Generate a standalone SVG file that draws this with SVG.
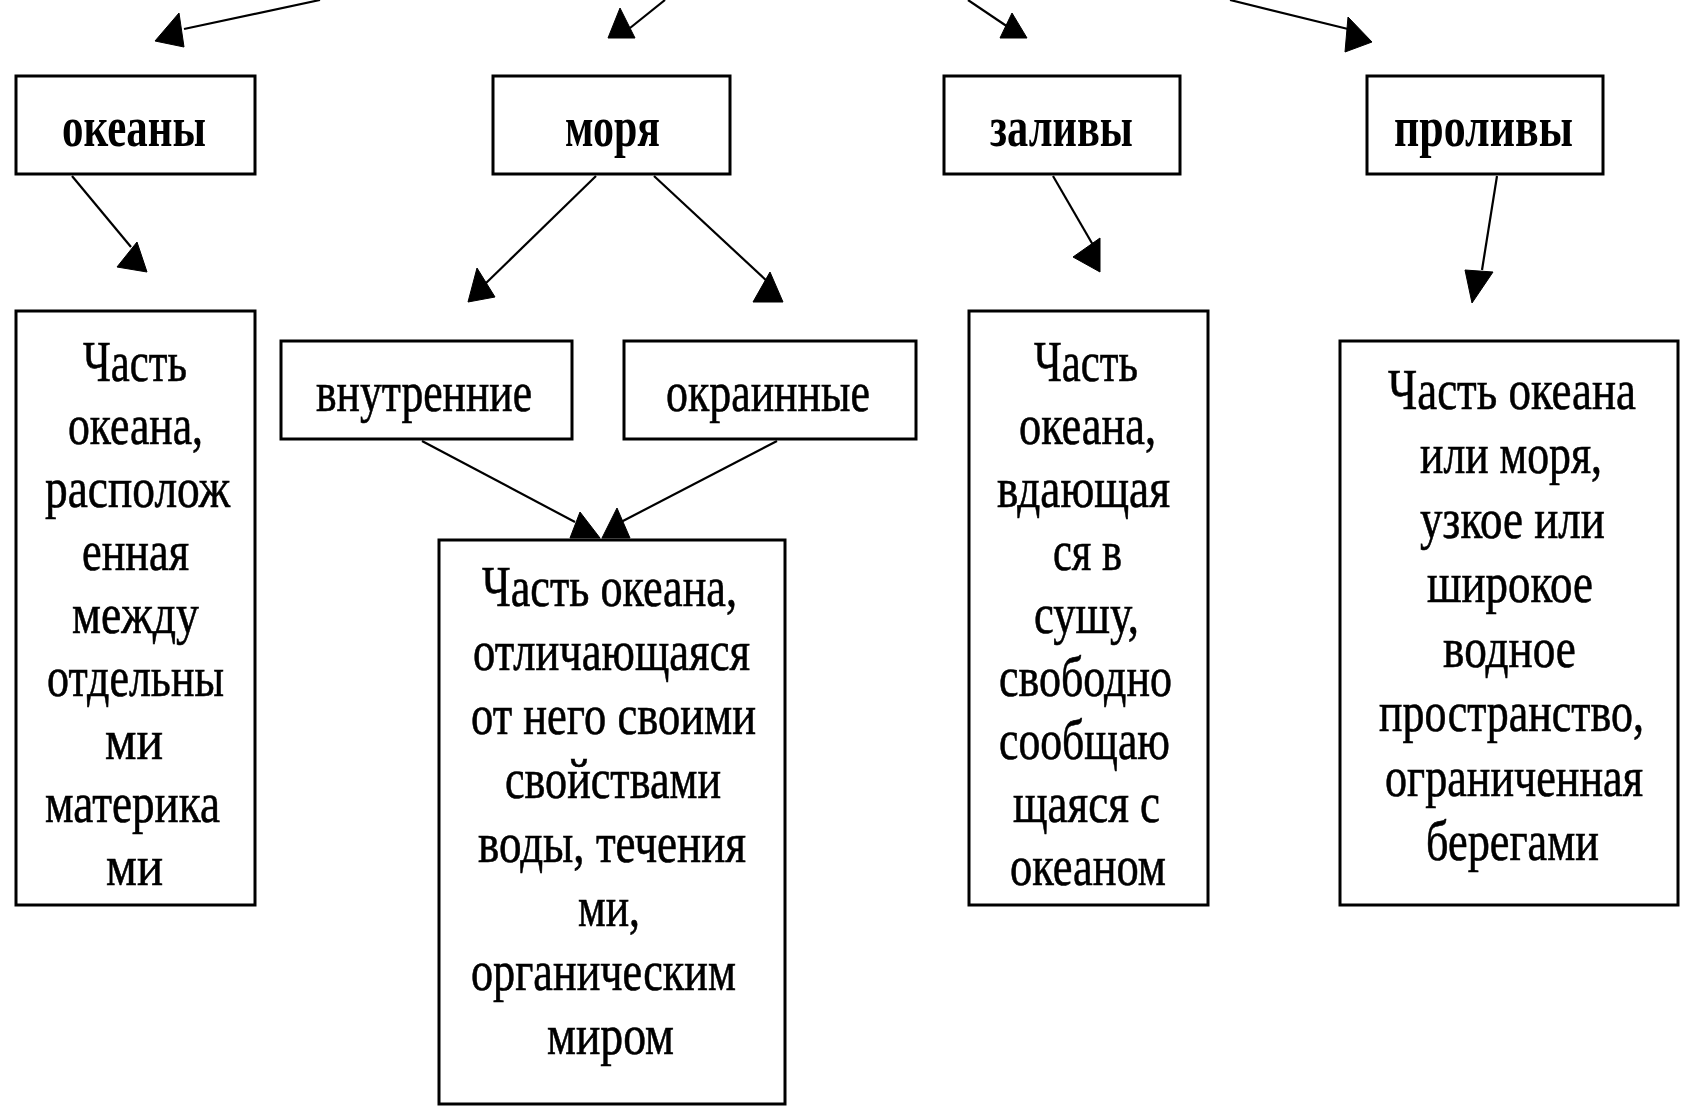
<svg xmlns="http://www.w3.org/2000/svg" width="1681" height="1111" viewBox="0 0 1681 1111">
<style>
.box{fill:#fff;stroke:#000;stroke-width:3}
.t{font-family:"Liberation Serif","Times New Roman",serif;font-size:56px;fill:#000;stroke:#000;stroke-width:0.6;text-anchor:middle}
.h{font-family:"Liberation Serif","Times New Roman",serif;font-size:58px;font-weight:bold;fill:#000;text-anchor:middle}
.ln{stroke:#000;stroke-width:2.2;fill:none}
.ah{fill:#000;stroke:#000;stroke-width:1;stroke-linejoin:round}
</style>
<rect x="0" y="0" width="1681" height="1111" fill="#fff"/>
<g id="connectors">
<line class="ln" x1="320" y1="0" x2="184" y2="29"/><polygon class="ah" points="179,13 155,41 184,47"/>
<line class="ln" x1="665" y1="0" x2="630" y2="28"/><polygon class="ah" points="620,8 608,38 635,38"/>
<line class="ln" x1="968" y1="0" x2="1008" y2="27"/><polygon class="ah" points="1012,13 1000,38 1027,38"/>
<line class="ln" x1="1230" y1="0" x2="1348" y2="29"/><polygon class="ah" points="1348,17 1372,42 1345,52"/>
<line class="ln" x1="72" y1="176" x2="131" y2="247"/><polygon class="ah" points="137,242 117,267 147,272"/>
<line class="ln" x1="596" y1="176" x2="484" y2="285"/><polygon class="ah" points="477,268 468,302 495,297"/>
<line class="ln" x1="654" y1="176" x2="768" y2="282"/><polygon class="ah" points="770,272 753,302 783,302"/>
<line class="ln" x1="1053" y1="176" x2="1093" y2="245"/><polygon class="ah" points="1100,238 1073,257 1100,272"/>
<line class="ln" x1="1497" y1="176" x2="1482" y2="270"/><polygon class="ah" points="1465,270 1493,272 1472,303"/>
<line class="ln" x1="422" y1="441" x2="575" y2="522"/><polygon class="ah" points="580,512 570,538 600,538"/>
<line class="ln" x1="777" y1="441" x2="621" y2="522"/><polygon class="ah" points="617,508 602,538 630,538"/>
</g>
<g id="n-okeany">
<rect class="box" x="16" y="76" width="239" height="98"/>
<text class="h" x="134" y="146" textLength="144" lengthAdjust="spacingAndGlyphs">океаны</text>
</g>
<g id="n-morya">
<rect class="box" x="493" y="76" width="237" height="98"/>
<text class="h" x="612.5" y="146" textLength="95" lengthAdjust="spacingAndGlyphs">моря</text>
</g>
<g id="n-zalivy">
<rect class="box" x="944" y="76" width="236" height="98"/>
<text class="h" x="1061.5" y="146" textLength="143" lengthAdjust="spacingAndGlyphs">заливы</text>
</g>
<g id="n-prolivy">
<rect class="box" x="1367" y="76" width="236" height="98"/>
<text class="h" x="1483.5" y="146" textLength="179" lengthAdjust="spacingAndGlyphs">проливы</text>
</g>
<g id="n-okeany-desc">
<rect class="box" x="16" y="311" width="239" height="594"/>
<text class="t" x="135" y="381" textLength="104" lengthAdjust="spacingAndGlyphs">Часть</text>
<text class="t" x="135.5" y="444" textLength="135" lengthAdjust="spacingAndGlyphs">океана,</text>
<text class="t" x="137.5" y="507" textLength="185" lengthAdjust="spacingAndGlyphs">располож</text>
<text class="t" x="135.5" y="570" textLength="107" lengthAdjust="spacingAndGlyphs">енная</text>
<text class="t" x="135.5" y="633" textLength="127" lengthAdjust="spacingAndGlyphs">между</text>
<text class="t" x="135.5" y="696" textLength="177" lengthAdjust="spacingAndGlyphs">отдельны</text>
<text class="t" x="134" y="759" textLength="58" lengthAdjust="spacingAndGlyphs">ми</text>
<text class="t" x="132.5" y="822" textLength="175" lengthAdjust="spacingAndGlyphs">материка</text>
<text class="t" x="134.5" y="885" textLength="57" lengthAdjust="spacingAndGlyphs">ми</text>
</g>
<g id="n-vnutrennie">
<rect class="box" x="281" y="341" width="291" height="98"/>
<text class="t" x="424" y="411" textLength="216" lengthAdjust="spacingAndGlyphs">внутренние</text>
</g>
<g id="n-okrainnye">
<rect class="box" x="624" y="341" width="292" height="98"/>
<text class="t" x="768" y="411" textLength="204" lengthAdjust="spacingAndGlyphs">окраинные</text>
</g>
<g id="n-morya-desc">
<rect class="box" x="439" y="540" width="346" height="564"/>
<text class="t" x="609.5" y="606" textLength="255" lengthAdjust="spacingAndGlyphs">Часть океана,</text>
<text class="t" x="611.5" y="670" textLength="277" lengthAdjust="spacingAndGlyphs">отличающаяся</text>
<text class="t" x="613.5" y="734" textLength="285" lengthAdjust="spacingAndGlyphs">от него своими</text>
<text class="t" x="613" y="798" textLength="216" lengthAdjust="spacingAndGlyphs">свойствами</text>
<text class="t" x="612" y="862" textLength="268" lengthAdjust="spacingAndGlyphs">воды, течения</text>
<text class="t" x="609" y="926" textLength="62" lengthAdjust="spacingAndGlyphs">ми,</text>
<text class="t" x="603.5" y="990" textLength="265" lengthAdjust="spacingAndGlyphs">органическим</text>
<text class="t" x="610.5" y="1054" textLength="127" lengthAdjust="spacingAndGlyphs">миром</text>
</g>
<g id="n-zalivy-desc">
<rect class="box" x="969" y="311" width="239" height="594"/>
<text class="t" x="1086" y="381" textLength="104" lengthAdjust="spacingAndGlyphs">Часть</text>
<text class="t" x="1087.5" y="444" textLength="137" lengthAdjust="spacingAndGlyphs">океана,</text>
<text class="t" x="1083.5" y="507" textLength="173" lengthAdjust="spacingAndGlyphs">вдающая</text>
<text class="t" x="1087.5" y="570" textLength="69" lengthAdjust="spacingAndGlyphs">ся в</text>
<text class="t" x="1086.5" y="633" textLength="105" lengthAdjust="spacingAndGlyphs">сушу,</text>
<text class="t" x="1085.5" y="696" textLength="173" lengthAdjust="spacingAndGlyphs">свободно</text>
<text class="t" x="1084.5" y="759" textLength="171" lengthAdjust="spacingAndGlyphs">сообщаю</text>
<text class="t" x="1086.5" y="822" textLength="147" lengthAdjust="spacingAndGlyphs">щаяся с</text>
<text class="t" x="1088" y="885" textLength="156" lengthAdjust="spacingAndGlyphs">океаном</text>
</g>
<g id="n-prolivy-desc">
<rect class="box" x="1340" y="341" width="338" height="564"/>
<text class="t" transform="translate(1512 0) scale(0.8 1)" x="0" y="409" textLength="310" lengthAdjust="spacingAndGlyphs">Часть океана</text>
<text class="t" transform="translate(1511 0) scale(0.8 1)" x="0" y="473" textLength="227.5" lengthAdjust="spacingAndGlyphs">или моря,</text>
<text class="t" transform="translate(1512.5 0) scale(0.8 1)" x="0" y="538" textLength="231" lengthAdjust="spacingAndGlyphs">узкое или</text>
<text class="t" transform="translate(1510 0) scale(0.8 1)" x="0" y="602" textLength="207.5" lengthAdjust="spacingAndGlyphs">широкое</text>
<text class="t" transform="translate(1509.5 0) scale(0.8 1)" x="0" y="667" textLength="166" lengthAdjust="spacingAndGlyphs">водное</text>
<text class="t" transform="translate(1511.5 0) scale(0.8 1)" x="0" y="731" textLength="331" lengthAdjust="spacingAndGlyphs">пространство,</text>
<text class="t" transform="translate(1514 0) scale(0.8 1)" x="0" y="796" textLength="322.5" lengthAdjust="spacingAndGlyphs">ограниченная</text>
<text class="t" transform="translate(1512.5 0) scale(0.8 1)" x="0" y="860" textLength="216" lengthAdjust="spacingAndGlyphs">берегами</text>
</g>
</svg>
